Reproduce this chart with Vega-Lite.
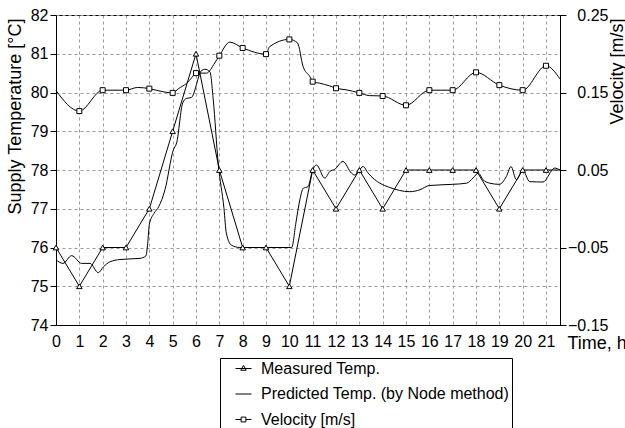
{
  "$schema": "https://vega.github.io/schema/vega-lite/v6.json",
  "width": 504,
  "height": 310,
  "autosize": {"type": "none"},
  "padding": {"left": 56, "top": 15, "right": 65, "bottom": 103},
  "background": "white",
  "config": {
    "font": "Liberation Sans",
    "view": {"stroke": "black", "strokeWidth": 1},
    "axis": {
      "domainColor": "black",
      "domainWidth": 1,
      "tickColor": "black",
      "labelColor": "black",
      "titleColor": "black",
      "labelFontSize": 16,
      "titleFontSize": 18,
      "titleFontWeight": "normal",
      "gridColor": "#9a9a9a",
      "gridDash": [3, 3],
      "gridWidth": 1,
      "labelFlush": false,
      "labelOverlap": false
    }
  },
  "datasets": {
    "m": [
      {"t": 0, "s": "Measured Temp.", "v": 76},
      {"t": 1, "s": "Measured Temp.", "v": 75},
      {"t": 2, "s": "Measured Temp.", "v": 76},
      {"t": 3, "s": "Measured Temp.", "v": 76},
      {"t": 4, "s": "Measured Temp.", "v": 77},
      {"t": 5, "s": "Measured Temp.", "v": 79},
      {"t": 6, "s": "Measured Temp.", "v": 81},
      {"t": 7, "s": "Measured Temp.", "v": 78},
      {"t": 8, "s": "Measured Temp.", "v": 76},
      {"t": 9, "s": "Measured Temp.", "v": 76},
      {"t": 10, "s": "Measured Temp.", "v": 75},
      {"t": 11, "s": "Measured Temp.", "v": 78},
      {"t": 12, "s": "Measured Temp.", "v": 77},
      {"t": 13, "s": "Measured Temp.", "v": 78},
      {"t": 14, "s": "Measured Temp.", "v": 77},
      {"t": 15, "s": "Measured Temp.", "v": 78},
      {"t": 16, "s": "Measured Temp.", "v": 78},
      {"t": 17, "s": "Measured Temp.", "v": 78},
      {"t": 18, "s": "Measured Temp.", "v": 78},
      {"t": 19, "s": "Measured Temp.", "v": 77},
      {"t": 20, "s": "Measured Temp.", "v": 78},
      {"t": 21, "s": "Measured Temp.", "v": 78},
      {"t": 21.6, "s": "Measured Temp.", "v": 78}
    ],
    "p": [
      {"t": 0, "v": 75.68}, {"t": 0.3, "v": 75.59}, {"t": 0.67, "v": 75.79}, {"t": 1.1, "v": 75.59},
      {"t": 1.46, "v": 75.59}, {"t": 1.81, "v": 75.35}, {"t": 2.03, "v": 75.5}, {"t": 2.31, "v": 75.63},
      {"t": 2.74, "v": 75.69}, {"t": 3.6, "v": 75.72}, {"t": 3.85, "v": 75.78}, {"t": 3.93, "v": 76.1},
      {"t": 4.0, "v": 76.6}, {"t": 4.2, "v": 76.88}, {"t": 4.4, "v": 77.05}, {"t": 4.67, "v": 77.49},
      {"t": 5.03, "v": 78.52}, {"t": 5.17, "v": 78.7}, {"t": 5.43, "v": 79.73}, {"t": 5.6, "v": 79.85},
      {"t": 5.8, "v": 79.87}, {"t": 6.24, "v": 80.57}, {"t": 6.38, "v": 80.6}, {"t": 6.6, "v": 80.53},
      {"t": 6.74, "v": 79.81}, {"t": 6.95, "v": 78.18}, {"t": 7.2, "v": 77.0}, {"t": 7.3, "v": 76.37},
      {"t": 7.52, "v": 76.06}, {"t": 7.88, "v": 76.0}, {"t": 10.1, "v": 76.0}, {"t": 10.28, "v": 76.63},
      {"t": 10.45, "v": 77.23}, {"t": 10.6, "v": 77.53}, {"t": 10.8, "v": 77.57}, {"t": 11.0, "v": 78.0},
      {"t": 11.16, "v": 78.13}, {"t": 11.52, "v": 77.79}, {"t": 11.73, "v": 77.96}, {"t": 11.95, "v": 78.02},
      {"t": 12.3, "v": 78.22}, {"t": 12.66, "v": 77.92}, {"t": 12.8, "v": 77.87}, {"t": 12.99, "v": 77.99},
      {"t": 13.16, "v": 78.09}, {"t": 13.38, "v": 77.92}, {"t": 13.66, "v": 77.75}, {"t": 13.88, "v": 77.66},
      {"t": 14.3, "v": 77.55}, {"t": 15.16, "v": 77.44}, {"t": 15.6, "v": 77.49}, {"t": 16.0, "v": 77.6},
      {"t": 17.0, "v": 77.63}, {"t": 17.6, "v": 77.66}, {"t": 17.87, "v": 77.79}, {"t": 18.1, "v": 77.92},
      {"t": 18.3, "v": 77.75}, {"t": 18.59, "v": 77.66}, {"t": 19.0, "v": 77.63}, {"t": 19.3, "v": 77.83},
      {"t": 19.5, "v": 78.09}, {"t": 19.73, "v": 77.75}, {"t": 20.0, "v": 78.0}, {"t": 20.3, "v": 77.7},
      {"t": 20.87, "v": 77.69}, {"t": 21.37, "v": 78.05}, {"t": 21.6, "v": 78.0}
    ],
    "v": [
      {"t": 0, "v": 0.1525}, {"t": 1, "v": 0.126}, {"t": 2, "v": 0.153}, {"t": 3, "v": 0.153},
      {"t": 3.5, "v": 0.1565}, {"t": 4, "v": 0.155}, {"t": 4.5, "v": 0.1515}, {"t": 5, "v": 0.1495},
      {"t": 5.25, "v": 0.155}, {"t": 5.6, "v": 0.162}, {"t": 5.8, "v": 0.1685}, {"t": 6, "v": 0.175},
      {"t": 6.45, "v": 0.175}, {"t": 6.8, "v": 0.188}, {"t": 7, "v": 0.1975}, {"t": 7.45, "v": 0.215},
      {"t": 8, "v": 0.2075}, {"t": 9, "v": 0.1995}, {"t": 9.15, "v": 0.209}, {"t": 10, "v": 0.2185},
      {"t": 10.35, "v": 0.214}, {"t": 10.59, "v": 0.1835}, {"t": 10.88, "v": 0.1705}, {"t": 11, "v": 0.164},
      {"t": 11.3, "v": 0.162}, {"t": 11.73, "v": 0.1585}, {"t": 12, "v": 0.1555}, {"t": 12.43, "v": 0.1535},
      {"t": 13, "v": 0.1495}, {"t": 13.43, "v": 0.146}, {"t": 14, "v": 0.1455}, {"t": 15, "v": 0.1335},
      {"t": 16, "v": 0.153}, {"t": 17, "v": 0.153}, {"t": 18, "v": 0.176}, {"t": 19, "v": 0.1595},
      {"t": 20, "v": 0.153}, {"t": 21, "v": 0.1845}, {"t": 21.6, "v": 0.1675}
    ]
  },
  "encoding": {
    "x": {
      "field": "t",
      "type": "quantitative",
      "scale": {"domain": [0, 21.6], "nice": false, "zero": false},
      "axis": {
        "values": [0, 1, 2, 3, 4, 5, 6, 7, 8, 9, 10, 11, 12, 13, 14, 15, 16, 17, 18, 19, 20, 21],
        "format": "d",
        "ticks": false,
        "labelPadding": 8,
        "grid": true,
        "title": "Time, h",
        "titleX": 511,
        "titleY": 18,
        "titleAlign": "left",
        "titleBaseline": "middle"
      }
    }
  },
  "layer": [
    {
      "encoding": {
        "y": {
          "field": "v",
          "type": "quantitative",
          "scale": {"domain": [74, 82], "nice": false, "zero": false},
          "axis": {
            "orient": "left",
            "values": [74, 75, 76, 77, 78, 79, 80, 81, 82],
            "format": "d",
            "grid": true,
            "tickSize": 6,
            "labelPadding": 2,
            "title": "Supply Temperature [°C]",
            "titleAngle": 270,
            "titleX": -41,
            "titleY": 3,
            "titleAlign": "right",
            "titleBaseline": "middle"
          }
        }
      },
      "layer": [
        {
          "data": {"name": "m"},
          "mark": {"type": "line", "color": "black", "strokeWidth": 1}
        },
        {
          "data": {"name": "p"},
          "mark": {"type": "line", "color": "black", "strokeWidth": 1, "interpolate": "monotone"}
        },
        {
          "data": {"name": "m"},
          "transform": [{"filter": "datum.t == floor(datum.t)"}],
          "mark": {"type": "point", "shape": "triangle-up", "filled": true, "fill": "white", "stroke": "black", "strokeWidth": 1, "size": 30, "opacity": 1}
        },
        {
          "data": {"name": "m"},
          "mark": {"type": "point", "opacity": 0},
          "encoding": {
            "shape": {
              "field": "s",
              "type": "nominal",
              "scale": {
                "domain": ["Measured Temp.", "Predicted Temp. (by Node method)", "Velocity [m/s]"],
                "range": [
                  "M-1,0H1M0,-0.38L0.34,0.22H-0.34Z",
                  "M-1,0H1",
                  "M-1,0H-0.3M0.3,0H1M-0.3,-0.3H0.3V0.3H-0.3Z"
                ]
              },
              "legend": {
                "title": null,
                "orient": "none",
                "legendX": 164,
                "legendY": 343,
                "strokeColor": "black",
                "fillColor": "white",
                "padding": 2,
                "symbolOffset": 13,
                "labelOffset": 9,
                "rowPadding": 8.5,
                "symbolSize": 256,
                "symbolFillColor": "white",
                "symbolStrokeColor": "black",
                "symbolStrokeWidth": 1,
                "symbolOpacity": 1,
                "labelFont": "Liberation Sans",
                "labelFontSize": 16,
                "labelColor": "black",
                "labelLimit": 0,
                "encode": {
                  "symbols": {
                    "update": {
                      "fill": {"value": "white"},
                      "stroke": {"value": "black"},
                      "opacity": {"value": 1},
                      "strokeWidth": {"value": 1},
                      "size": {"value": 256}
                    }
                  }
                }
              }
            }
          }
        }
      ]
    },
    {
      "data": {"name": "v"},
      "encoding": {
        "y": {
          "field": "v",
          "type": "quantitative",
          "scale": {"domain": [-0.15, 0.25], "nice": false, "zero": false},
          "axis": {
            "orient": "right",
            "values": [-0.15, -0.05, 0.05, 0.15, 0.25],
            "format": ".2f",
            "grid": false,
            "tickSize": 6,
            "labelPadding": 42,
            "labelAlign": "right",
            "title": "Velocity [m/s]",
            "titleAngle": 270,
            "titleX": 57,
            "titleY": 3,
            "titleAlign": "right",
            "titleBaseline": "middle"
          }
        }
      },
      "layer": [
        {
          "mark": {"type": "line", "color": "black", "strokeWidth": 1, "interpolate": "monotone"}
        },
        {
          "transform": [{"filter": "datum.t == floor(datum.t) && datum.t >= 1"}],
          "mark": {"type": "point", "shape": "square", "filled": true, "fill": "white", "stroke": "black", "strokeWidth": 1, "size": 25, "opacity": 1}
        }
      ]
    }
  ],
  "resolve": {"scale": {"y": "independent"}}
}
